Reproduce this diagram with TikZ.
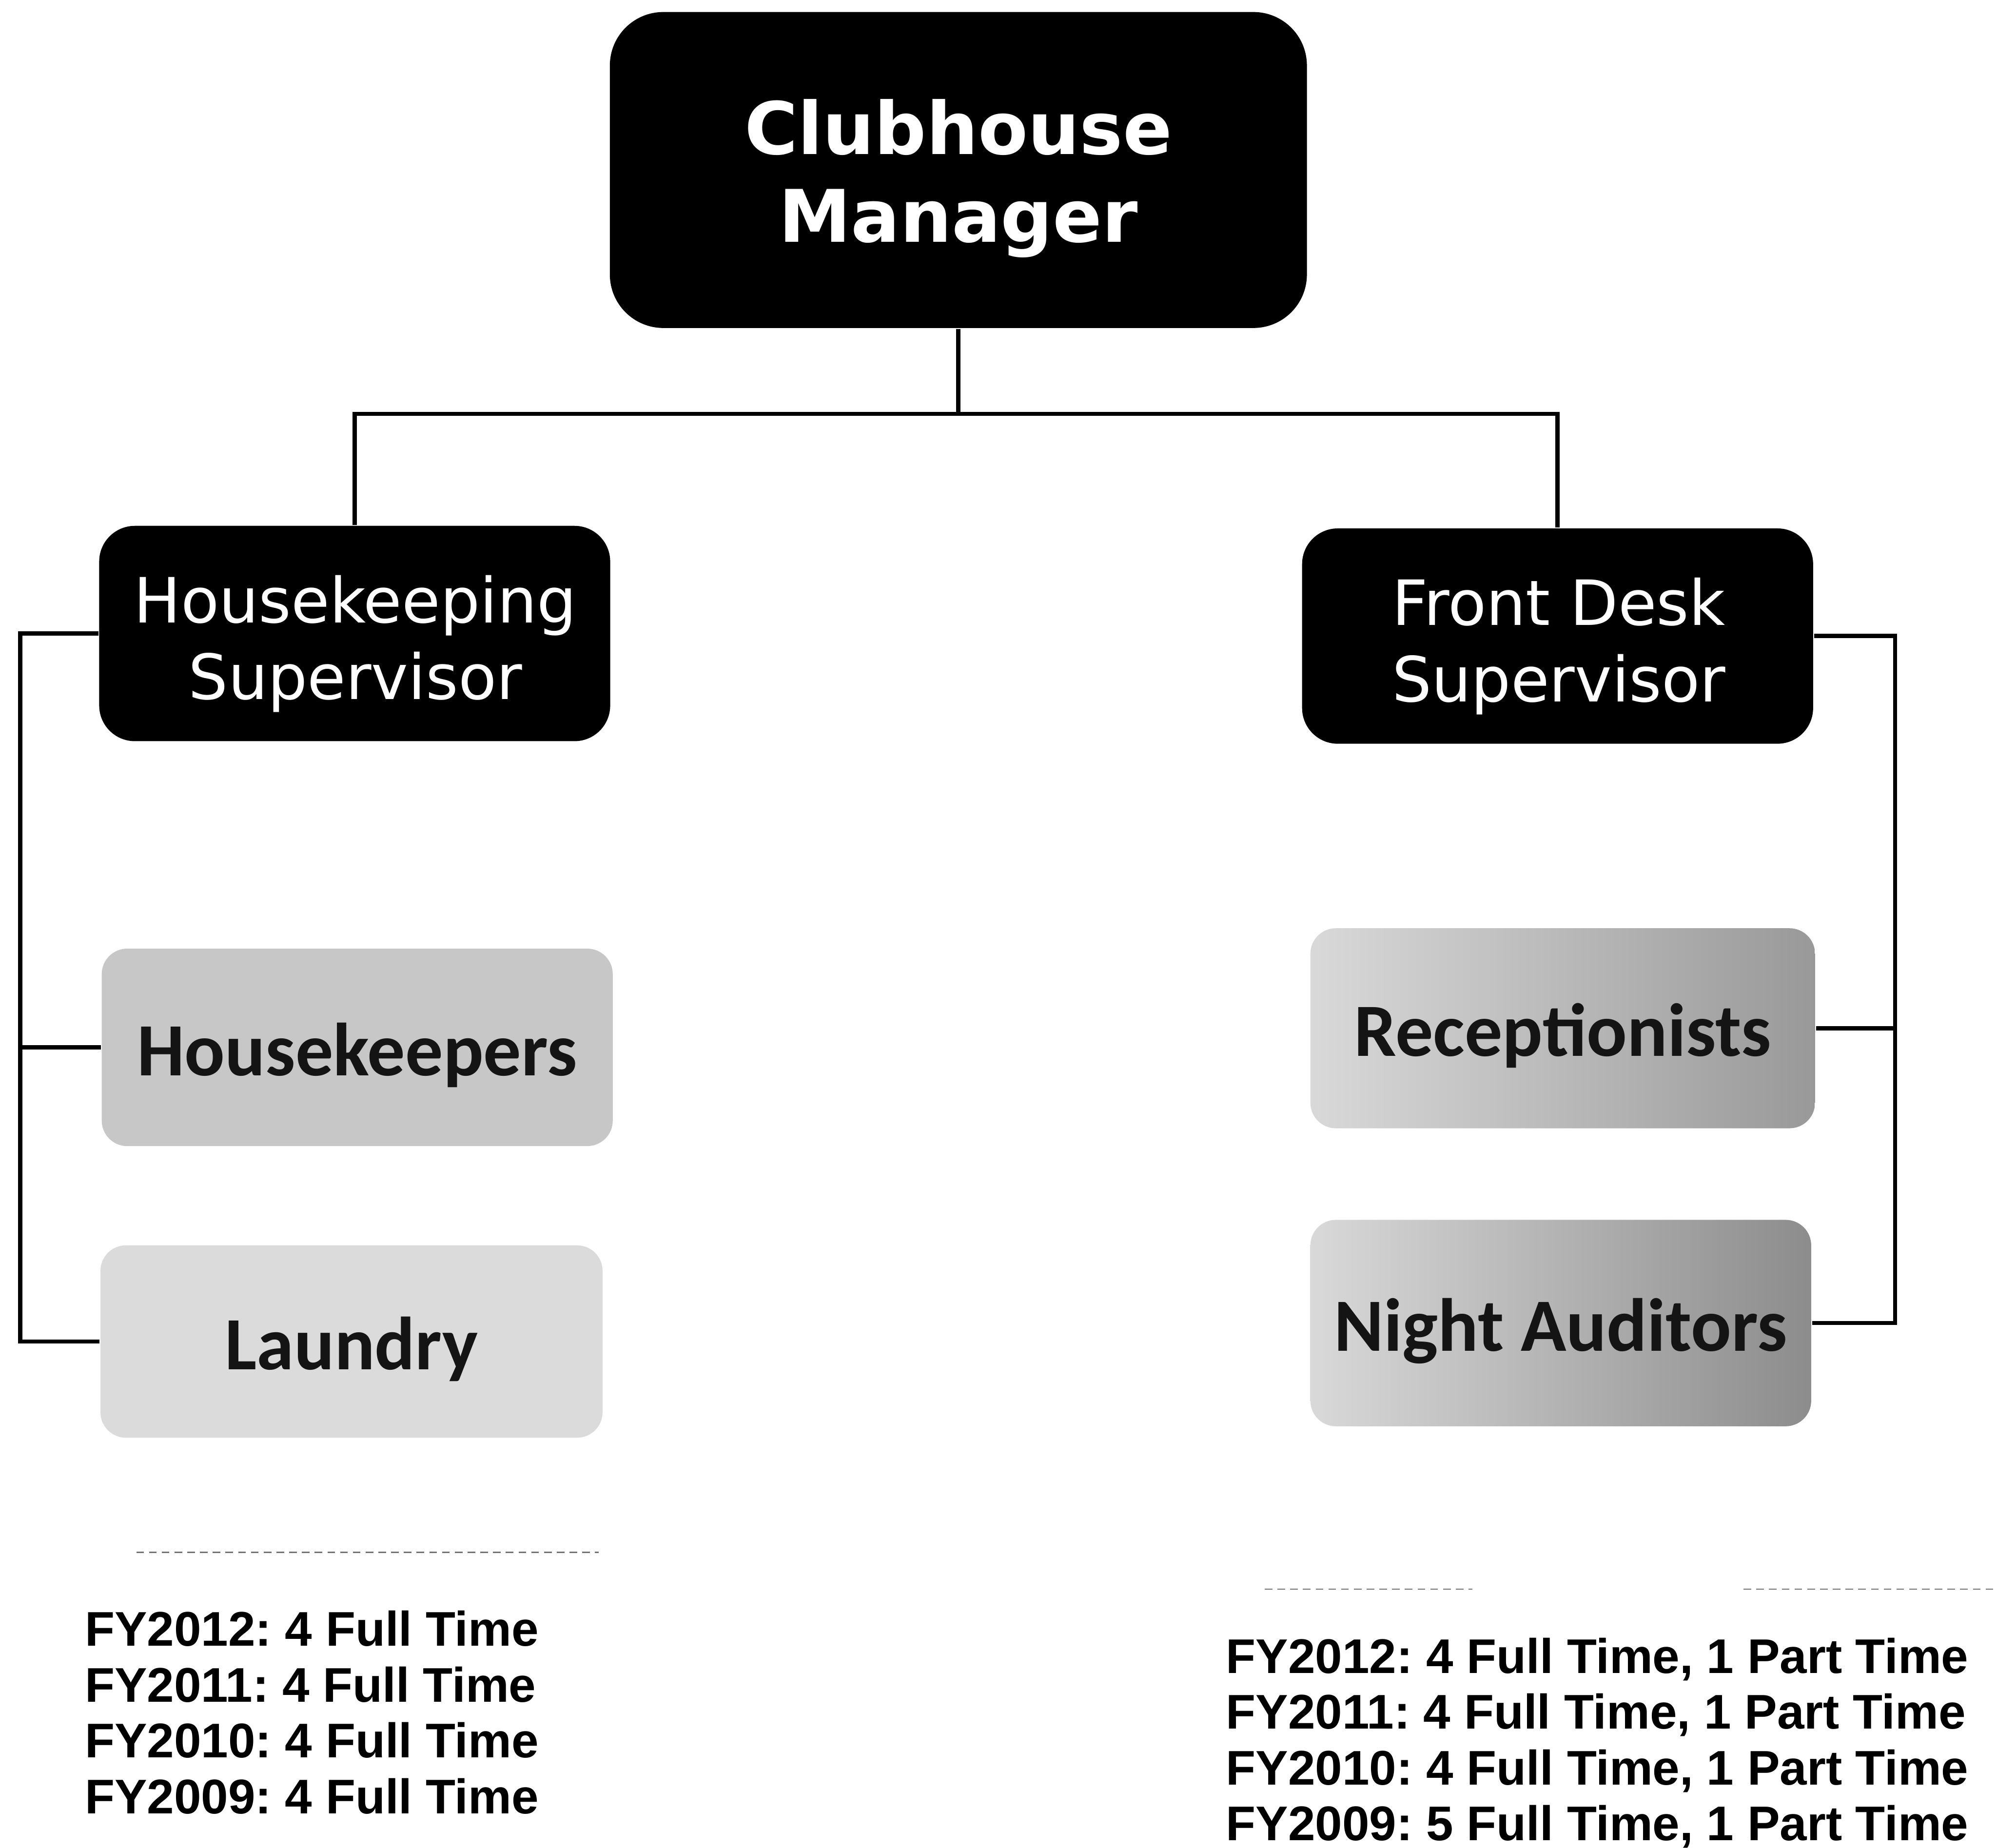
\documentclass[tikz,border=0pt]{standalone}
\usepackage{fontspec}
\newfontfamily\boxfont{DejaVu Sans}
\newfontfamily\staffont{Carlito}
\newfontfamily\notefont{Liberation Sans}
\frenchspacing
\begin{document}
\begin{tikzpicture}[x=0.01cm, y=-0.01cm]
\tikzset{
  lead/.style={rectangle, rounded corners=0.42cm, fill=black, minimum width=5.47cm, minimum height=2.48cm, inner sep=0pt},
  supbox/.style={rectangle, rounded corners=0.28cm, fill=black, minimum width=4.01cm, minimum height=1.69cm, inner sep=0pt},
  whitebold/.style={text=white, font=\boxfont\bfseries\fontsize{16.2}{19.6}\selectfont, inner sep=0pt, anchor=base},
  whiteplain/.style={text=white, font=\boxfont\fontsize{13.94}{17}\selectfont, inner sep=0pt, anchor=base},
  staffbox/.style={rectangle, rounded corners=0.2cm, inner sep=0pt, text=black!92,
    font=\staffont\bfseries\fontsize{16.8}{20}\selectfont, text height=0.44cm, text depth=0pt},
  note/.style={font=\notefont\bfseries\fontsize{10.87}{12.5}\selectfont, inner sep=0pt, anchor=base west},
  link/.style={line width=0.95pt, black},
  scrap/.style={black!55, line width=0.3pt, dash pattern=on 0.06cm off 0.04cm},
}
\useasboundingbox (0,0) rectangle (1568,1451);

% top position
\node[lead] (mgr) at (752.5,133.5) {};
\node[whitebold] (mgr1) at (752.5,121) {Clubhouse};
\node[whitebold] (mgr2) at (752.5,190) {Manager};

% supervisors
\node[supbox] (hks) at (278.5,497.5) {};
\node[whiteplain] (hks1) at (279,489) {Housekeeping};
\node[whiteplain] (hks2) at (279,549) {Supervisor};
\node[supbox] (fds) at (1223,499.5) {};
\node[whiteplain] (fds1) at (1224,491) {Front Desk};
\node[whiteplain] (fds2) at (1224,551) {Supervisor};

% staff groups
\node[staffbox, fill=black!22, minimum width=4.01cm, minimum height=1.55cm] (hkp) at (280.5,822.5) {Housekeepers};
\node[staffbox, fill=black!14, minimum width=3.94cm, minimum height=1.51cm] (lau) at (276,1053.5) {Laundry};
\node[staffbox, left color=black!15, right color=black!40, minimum width=3.96cm, minimum height=1.57cm] (rec) at (1227,807.5) {Receptionists};
\node[staffbox, left color=black!15, right color=black!45, minimum width=3.93cm, minimum height=1.62cm] (nau) at (1225.5,1039) {Night Auditors};

% connectors
\coordinate (bus) at (752.5,325);
\coordinate (lrail) at (16,0);
\coordinate (rrail) at (1488,0);
\draw[link] (mgr.south) -- (bus);
\draw[link] (hks.north) -- (hks.north |- bus) -- (fds.north |- bus) -- (fds.north);
\draw[link] (hks.west) -- (hks.west -| lrail) |- (lau.west);
\draw[link] (hkp.west -| lrail) -- (hkp.west);
\draw[link] (fds.east) -- (fds.east -| rrail) |- (nau.east);
\draw[link] (rec.east -| rrail) -- (rec.east);

% faint rules above the staffing notes
\draw[scrap] (107,1219) -- (470,1219);
\draw[scrap] (993,1248) -- (1156,1248);
\draw[scrap] (1369,1248) -- (1568,1248);

% staffing notes
\foreach \t [count=\i] in {{FY2012: 4 Full Time},{FY2011: 4 Full Time},{FY2010: 4 Full Time},{FY2009: 4 Full Time}}
  \node[note] (hkn\i) at (66,{1292.6+43.9*(\i-1)}) {\t};
\foreach \t [count=\i] in {{FY2012: 4 Full Time, 1 Part Time},{FY2011: 4 Full Time, 1 Part Time},{FY2010: 4 Full Time, 1 Part Time},{FY2009: 5 Full Time, 1 Part Time}}
  \node[note] (fdn\i) at (962,{1314+43.8*(\i-1)}) {\t};
\end{tikzpicture}
\end{document}
